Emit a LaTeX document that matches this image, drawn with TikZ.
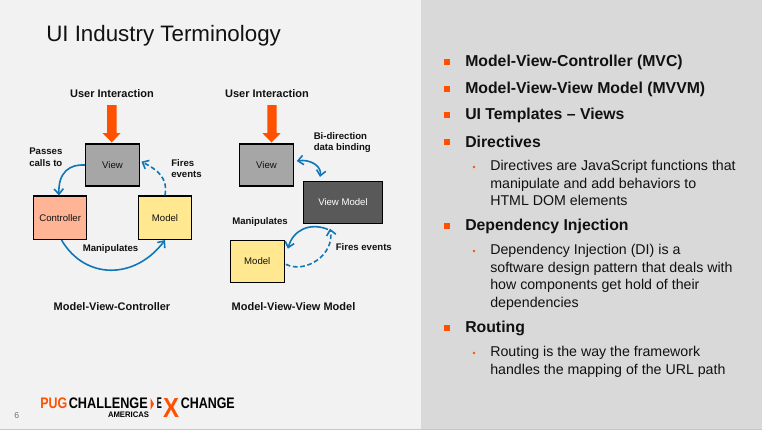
\documentclass[tikz,border=0pt]{standalone}
\usepackage{fontspec}
\usepackage{graphicx}
\setmainfont{Liberation Sans}
\usetikzlibrary{arrows.meta}
\definecolor{leftbg}{HTML}{F2F2F2}
\definecolor{rightbg}{HTML}{D9D9D9}
\definecolor{orng}{HTML}{FF5000}
\definecolor{blu}{HTML}{0F76B8}
\definecolor{txt}{HTML}{111111}
\definecolor{peach}{HTML}{FFB496}
\definecolor{yel}{HTML}{FFE88F}
\tikzset{
 box/.style={draw=black,line width=0.9pt,inner sep=0pt,font=\fontsize{7.2pt}{9pt}\selectfont,text=txt},
 lab/.style={font=\bfseries\fontsize{7.2pt}{8.7pt}\selectfont,align=left,text=txt,inner sep=0pt},
 captxt/.style={font=\bfseries\fontsize{8.25pt}{10pt}\selectfont,text=txt,inner sep=0pt},
 conn/.style={draw=blu,line width=1.2pt,-{Straight Barb[length=4pt,width=7pt]}},
 conntwo/.style={draw=blu,line width=1.2pt,{Straight Barb[length=4pt,width=7pt]}-{Straight Barb[length=4pt,width=7pt]}},
 headtxt/.style={anchor=west,font=\bfseries\fontsize{11.85pt}{14pt}\selectfont,text=txt,inner sep=0pt},
 bodytxt/.style={anchor=north west,align=left,font=\fontsize{10.65pt}{13.25pt}\selectfont,text=txt,inner sep=0pt},
 bl/.style={fill=orng,minimum size=4pt,inner sep=0pt},
 bls/.style={fill=orng,circle,minimum size=2.2pt,inner sep=0pt},
 logo/.style={anchor=west,inner sep=0pt,font=\bfseries\fontsize{11pt}{12pt}\selectfont,text=black}
}
\begin{document}
\begin{tikzpicture}[x=0.75pt,y=-0.75pt]
\useasboundingbox (0,0) rectangle (762,430);
\fill[leftbg] (0,0) rectangle (421,430);
\fill[rightbg] (421,0) rectangle (762,430);
\fill[black!22] (0,428.5) rectangle (762,430);
\node[anchor=west,inner sep=0pt,font=\fontsize{16.75pt}{18pt}\selectfont,text=txt] (title) at (46,36) {UI Industry Terminology};

% MVC
\node[captxt] (ui1) at (112,94) {User Interaction};
\node[box,minimum width=40.5pt,minimum height=31.5pt,fill=black!35] (v1) at (112.5,165) {View};
\node[box,minimum width=40pt,minimum height=32.6pt,fill=peach] (c1) at (60.2,217.7) {Controller};
\node[box,minimum width=40pt,minimum height=32.6pt,fill=yel] (m1) at (165,217.7) {Model};
\fill[orng] (107,105) -- (116.5,105) -- (116.5,133) -- (120.5,133) -- (111.75,142.5) -- (102.5,133) -- (107,133) -- cycle;
\draw[conn] (v1.west) .. controls (70,164) and (58,172) .. ([xshift=-0.9pt]c1.north);
\draw[conn,dash pattern=on 3.5pt off 2pt] (m1.north) .. controls (168,178) and (158,170) .. ([xshift=1pt,yshift=2.5pt]v1.east);
\draw[conn] ([xshift=1pt]c1.south) .. controls (85,280) and (135,280) .. (m1.south);
\node[lab,anchor=west] at (29,157.5) (p1) {Passes\\calls to};
\node[lab,anchor=west] at (171,168.5) (f1) {Fires\\events};
\node[lab,anchor=west] at (82.5,249) (ma1) {Manipulates};
\node[captxt] at (112,307) (cap1) {Model-View-Controller};

% MVVM
\node[captxt] (ui2) at (267,94) {User Interaction};
\node[box,minimum width=40.5pt,minimum height=31.5pt,fill=black!35] (v2) at (266.5,165) {View};
\node[box,minimum width=59pt,minimum height=31.5pt,fill=black!65,text=white] (vm) at (343,202.5) {View Model};
\node[box,minimum width=40.5pt,minimum height=31.5pt,fill=yel] (m2) at (257.3,261.3) {Model};
\fill[orng] (267.3,105) -- (276.7,105) -- (276.7,133) -- (280.7,133) -- (271.5,142.5) -- (262.3,133) -- (267.3,133) -- cycle;
\draw[conntwo] ([xshift=2pt,yshift=3pt]v2.east) .. controls (310,159) and (322,166) .. ([xshift=-17.25pt,yshift=3pt]vm.north);
\draw[conn] ([xshift=-11.25pt,yshift=-4pt]vm.south) .. controls (310,222) and (293,230) .. ([xshift=2.25pt,yshift=-6.75pt]m2.north east);
\draw[conn,dash pattern=on 3.5pt off 2pt] ([xshift=0.75pt,yshift=-2.25pt]m2.east) .. controls (305,274) and (335,255) .. ([xshift=-9.75pt,yshift=-3.4pt]vm.south);
\node[lab,anchor=west] (b2) at (313.5,142.5) {Bi-direction\\data binding};
\node[lab,anchor=west] (ma2) at (232,221.7) {Manipulates};
\node[lab,anchor=west] (f2) at (335.5,247) {Fires events};
\node[captxt] at (293.5,307) (cap2) {Model-View-View Model};

% right
\foreach \y/\t in {62/Model-View-Controller (MVC),89/Model-View-View Model (MVVM),115/UI Templates – Views,142/Directives,226/Dependency Injection,328/Routing}{
 \node[bl] at (447,\y) {};
 \node[headtxt] at (465,\y) {\t};
}
\node[bls] at (474,167) {};
\node[bodytxt] at (490,160) {Directives are JavaScript functions that\\manipulate and add behaviors to\\HTML DOM elements};
\node[bls] at (474,251) {};
\node[bodytxt] at (490,244) {Dependency Injection (DI) is a\\software design pattern that deals with\\how components get hold of their\\dependencies};
\node[bls] at (474,353) {};
\node[bodytxt] at (490,346) {Routing is the way the framework\\handles the mapping of the URL path};

% footer
\node[anchor=west,inner sep=0pt,font=\fontsize{6.5pt}{8pt}\selectfont,text=black!55] (pg) at (14,416) {6};
\node[logo,text=orng] (l1) at (40,403.5) {\resizebox{20.25pt}{8pt}{PUG}};
\node[logo] (l2) at (68.5,403.5) {\resizebox{59.25pt}{8pt}{CHALLENGE}};
\fill[orng] (150.5,398) -- (154,404) -- (150.5,410) -- cycle;
\node[logo] (l3) at (156.5,403.5) {\resizebox{3.75pt}{8pt}{E}};
\node[logo,anchor=center,text=orng] (l4) at (171,407.5) {\resizebox{12pt}{14.25pt}{X}};
\node[logo] (l5) at (180.5,403.5) {\resizebox{40.5pt}{8pt}{CHANGE}};
\node[logo,anchor=center] (l6) at (128.5,414.3) {\resizebox{30.75pt}{4.2pt}{AMERICAS}};
\end{tikzpicture}
\end{document}
